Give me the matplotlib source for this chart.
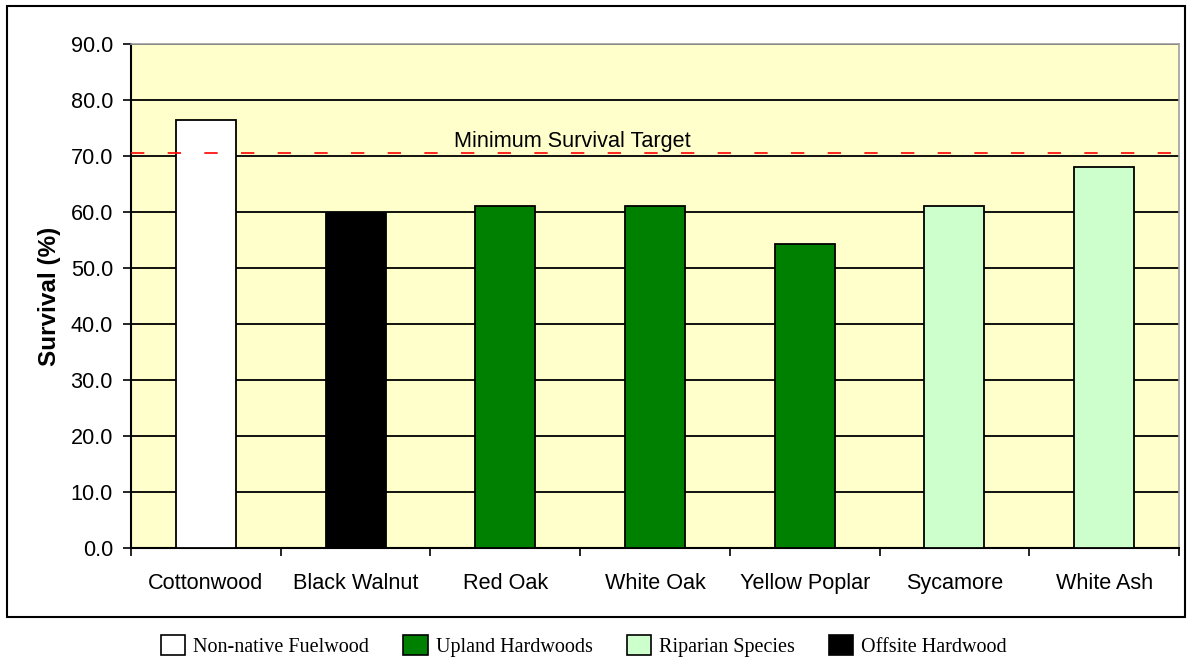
import matplotlib
matplotlib.use("Agg")
import matplotlib.pyplot as plt
from matplotlib.patches import Patch, Rectangle

species = ["Cottonwood", "Black Walnut", "Red Oak", "White Oak", "Yellow Poplar", "Sycamore", "White Ash"]
survival = [76.4, 59.9, 61.0, 61.0, 54.3, 61.0, 68.1]
groups = ["Non-native Fuelwood", "Offsite Hardwood", "Upland Hardwoods", "Upland Hardwoods",
          "Upland Hardwoods", "Riparian Species", "Riparian Species"]
legend_order = ["Non-native Fuelwood", "Upland Hardwoods", "Riparian Species", "Offsite Hardwood"]
target = 70.5

group_colors = {
    "Non-native Fuelwood": "#FFFFFF",
    "Upland Hardwoods": "#008000",
    "Riparian Species": "#CCFFCC",
    "Offsite Hardwood": "#000000",
}

sans = ["Liberation Sans", "DejaVu Sans"]
serif = ["Liberation Serif", "DejaVu Serif"]

fig = plt.figure(figsize=(11.87, 6.72), dpi=100)
ax = fig.add_axes([131 / 1187, 1 - 548 / 672, (1179 - 131) / 1187, (548 - 44) / 672])
ax.set_facecolor("#FFFFCC")

x = list(range(len(species)))
ax.bar(x, survival, width=0.4, color=[group_colors[g] for g in groups],
       edgecolor="black", linewidth=1.3, zorder=3)

ax.set_xlim(-0.5, len(species) - 0.5)
ax.set_ylim(0, 90)
ax.set_yticks(range(0, 91, 10))
ax.set_yticklabels([f"{v:.1f}" for v in range(0, 91, 10)], family=sans, fontsize=15.6)
ax.yaxis.grid(True, color="black", linewidth=1.3, zorder=1)
ax.set_axisbelow(True)

# category boundaries carry the ticks, names sit in between
ax.set_xticks([i - 0.5 for i in range(len(species) + 1)])
ax.set_xticklabels([])
ax.set_xticks(x, minor=True)
ax.set_xticklabels(species, minor=True, family=sans, fontsize=15.6)
ax.tick_params(axis="x", which="major", direction="out", length=6, width=1.2)
ax.tick_params(axis="x", which="minor", length=0, pad=18)
ax.tick_params(axis="y", direction="out", length=6, width=1.2, pad=7)

for s in ["left", "bottom"]:
    ax.spines[s].set_color("black")
    ax.spines[s].set_linewidth(1.5)
for s in ["top", "right"]:
    ax.spines[s].set_color("#A0A0A0")
    ax.spines[s].set_linewidth(1.2)

ax.axhline(target, color="#FF0000", linestyle=(0, (8, 14)), linewidth=1.2, zorder=4)
ax.text(2.45, 71.6, "Minimum Survival Target", family=sans, fontsize=15.6,
        ha="center", va="baseline", zorder=5)

ax.set_ylabel("Survival (%)", family=sans, fontsize=17.5, fontweight="bold", labelpad=7)

# outer chart border
fig.patches.append(Rectangle((7 / 1187, 1 - 617 / 672), (1185 - 7) / 1187, (617 - 6) / 672,
                             transform=fig.transFigure, fill=False, edgecolor="black",
                             linewidth=1.5))

handles = [Patch(facecolor=group_colors[g], edgecolor="black", linewidth=1.2) for g in legend_order]
fig.legend(handles, legend_order, loc="center", bbox_to_anchor=(584 / 1187, 1 - 646 / 672), ncol=4,
           frameon=False, prop={"family": serif, "size": 14.5}, handlelength=1.2, handleheight=1.1,
           handletextpad=0.4, columnspacing=1.7)

fig.savefig("out.png", dpi=100)
